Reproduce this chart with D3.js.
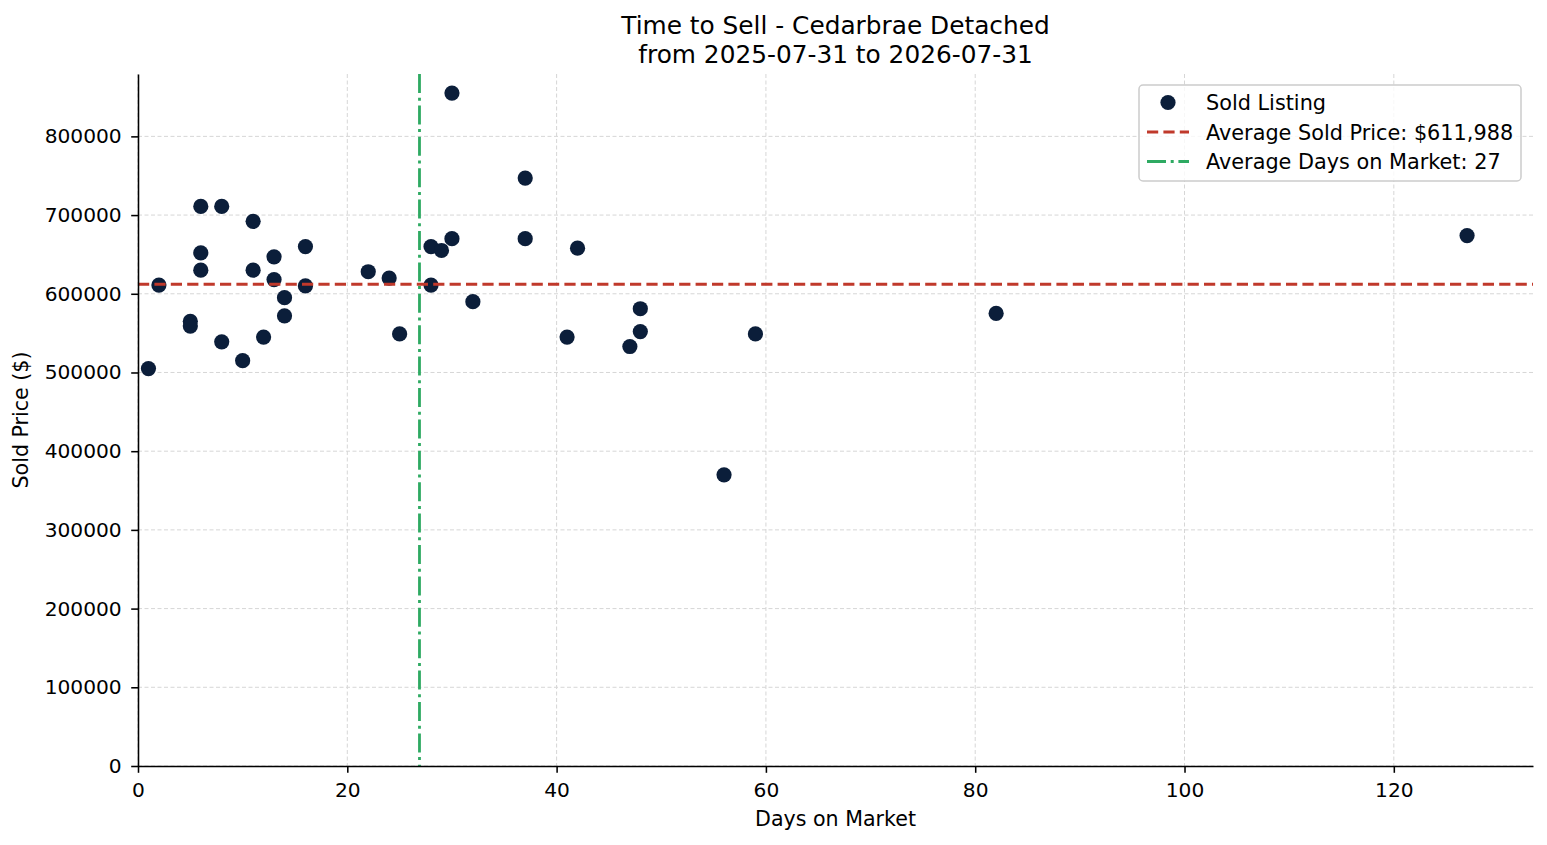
<!DOCTYPE html>
<html lang="en">

<head>
  <meta charset="UTF-8">
  <title>Time to Sell - Cedarbrae Detached</title>
  <style>
    body {
      margin: 0;
      background: white;
    }

    svg text {
      font-family: "DejaVu Sans", sans-serif;
      fill: black;
    }

    .grid line {
      stroke: #d6d6d6;
      stroke-width: 1;
      stroke-dasharray: 4 2.5;
    }

    .axis path,
    .axis line {
      stroke: black;
      stroke-width: 1.55;
    }
  </style>
</head>

<body>

  <script src="https://d3js.org/d3.v7.min.js"></script>

  <script>
    // sold listings
    const days = [1, 2, 5, 5, 6, 6, 6, 8, 8, 10, 11, 11, 12, 13, 13, 14, 14, 16, 16,
      22, 24, 25, 28, 28, 29, 30, 30, 32, 37, 37, 41, 42, 47, 48, 48, 56, 59, 82, 127];
    const prices = [505000, 611000, 565000, 559000, 711000, 652000, 630000, 711000, 539000,
      515000, 692000, 630000, 545000, 647000, 618000, 595000, 572000, 660000, 610000,
      628000, 620000, 549000, 660000, 611000, 655000, 670000, 855000, 590000, 747000,
      670000, 545000, 658000, 533000, 581000, 552000, 370000, 549000, 575000, 674000];

    const avgSoldPrice = 611988;
    const xTicks = [0, 20, 40, 60, 80, 100, 120];
    const yTicks = [0, 100000, 200000, 300000, 400000, 500000, 600000, 700000, 800000];

    const titleLines = ["Time to Sell - Cedarbrae Detached", "from 2025-07-31 to 2026-07-31"];

    let margin = { top: 74, right: 14, bottom: 79, left: 138 },
      width = 1547 - margin.left - margin.right,
      height = 845 - margin.top - margin.bottom;

    const listings = days.map((d, i) => ({ days: d, price: prices[i] }));
    const avgDays = d3.mean(days);

    // matplotlib-like 5% padding at the top/right, limits pinned to 0
    const xMax = d3.max(days) + 0.05 * (d3.max(days) - d3.min(days));
    const yMax = d3.max(prices) + 0.05 * (d3.max(prices) - d3.min(prices));

    const x = d3.scaleLinear().domain([0, xMax]).range([0, width]);
    const y = d3.scaleLinear().domain([0, yMax]).range([height, 0]);

    const root = d3.select('body')
      .append('svg')
      .attr("width", 1547)
      .attr("height", 845);

    const svg = root.append('g')
      .attr("transform", `translate(${margin.left},${margin.top})`);

    // grid
    svg.append('g')
      .attr('class', 'grid')
      .selectAll('line.v')
      .data(xTicks)
      .join('line')
      .attr('x1', d => x(d)).attr('x2', d => x(d))
      .attr('y1', 0).attr('y2', height);

    svg.append('g')
      .attr('class', 'grid')
      .selectAll('line.h')
      .data(yTicks)
      .join('line')
      .attr('x1', 0).attr('x2', width)
      .attr('y1', d => y(d)).attr('y2', d => y(d));

    // points
    svg.append('g')
      .selectAll('circle')
      .data(listings)
      .join('circle')
      .attr('cx', d => x(d.days))
      .attr('cy', d => y(d.price))
      .attr('r', 7.6)
      .attr('fill', '#0b1e3a');

    // averages
    svg.append('line')
      .attr('x1', 0).attr('x2', width)
      .attr('y1', y(avgSoldPrice)).attr('y2', y(avgSoldPrice))
      .attr('stroke', '#c0392b')
      .attr('stroke-width', 3)
      .attr('stroke-dasharray', '11.2 5.2');

    svg.append('line')
      .attr('x1', x(avgDays)).attr('x2', x(avgDays))
      .attr('y1', 0).attr('y2', height)
      .attr('stroke', '#2eaa62')
      .attr('stroke-width', 2.8)
      .attr('stroke-dasharray', '19 4.7 3 4.7');

    // axes
    svg.append('g')
      .attr('class', 'axis')
      .attr('transform', `translate(0,${height})`)
      .call(d3.axisBottom(x).tickValues(xTicks).tickSize(6.8).tickPadding(10).tickSizeOuter(0));

    svg.append('g')
      .attr('class', 'axis')
      .call(d3.axisLeft(y).tickValues(yTicks).tickFormat(d3.format('d')).tickSize(6.8).tickPadding(9.5).tickSizeOuter(0));

    svg.selectAll('.axis text')
      .attr('font-size', 20.2)
      .attr('font-family', '"DejaVu Sans", sans-serif')
      .attr('fill', 'black');

    // labels
    svg.append('text')
      .attr('x', width / 2)
      .attr('y', height + 60)
      .attr('text-anchor', 'middle')
      .attr('font-size', 20.6)
      .text('Days on Market');

    svg.append('text')
      .attr('transform', `translate(${28 - margin.left},${height / 2}) rotate(-90)`)
      .attr('text-anchor', 'middle')
      .attr('font-size', 20.6)
      .text('Sold Price ($)');

    root.append('g')
      .selectAll('text')
      .data(titleLines)
      .join('text')
      .attr('x', margin.left + width / 2)
      .attr('y', (d, i) => 34 + i * 28.5)
      .attr('text-anchor', 'middle')
      .attr('font-size', 24.8)
      .text(d => d);

    // legend
    const legendItems = [
      { label: 'Sold Listing', kind: 'dot' },
      { label: `Average Sold Price: $${d3.format(',')(avgSoldPrice)}`, kind: 'dash' },
      { label: `Average Days on Market: ${Math.round(avgDays)}`, kind: 'dashdot' }
    ];

    const legend = root.append('g')
      .attr('transform', 'translate(1139,85)');

    legend.append('rect')
      .attr('width', 382)
      .attr('height', 96)
      .attr('rx', 4)
      .attr('fill', 'white')
      .attr('fill-opacity', 0.8)
      .attr('stroke', '#cccccc')
      .attr('stroke-width', 1.5);

    const rows = legend.selectAll('g.row')
      .data(legendItems)
      .join('g')
      .attr('class', 'row')
      .attr('transform', (d, i) => `translate(0,${17.5 + i * 29.5})`);

    rows.filter(d => d.kind === 'dot')
      .append('circle')
      .attr('cx', 29)
      .attr('cy', 0)
      .attr('r', 7.6)
      .attr('fill', '#0b1e3a');

    rows.filter(d => d.kind !== 'dot')
      .append('line')
      .attr('x1', 8).attr('x2', 50)
      .attr('y1', 0).attr('y2', 0)
      .attr('stroke', d => d.kind === 'dash' ? '#c0392b' : '#2eaa62')
      .attr('stroke-width', d => d.kind === 'dash' ? 3 : 2.8)
      .attr('stroke-dasharray', d => d.kind === 'dash' ? '11.2 5.2' : '19 4.7 3 4.7');

    rows.append('text')
      .attr('x', 67)
      .attr('y', 0)
      .attr('dy', '0.36em')
      .attr('font-size', 20.8)
      .text(d => d.label);
  </script>
</body>

</html>
